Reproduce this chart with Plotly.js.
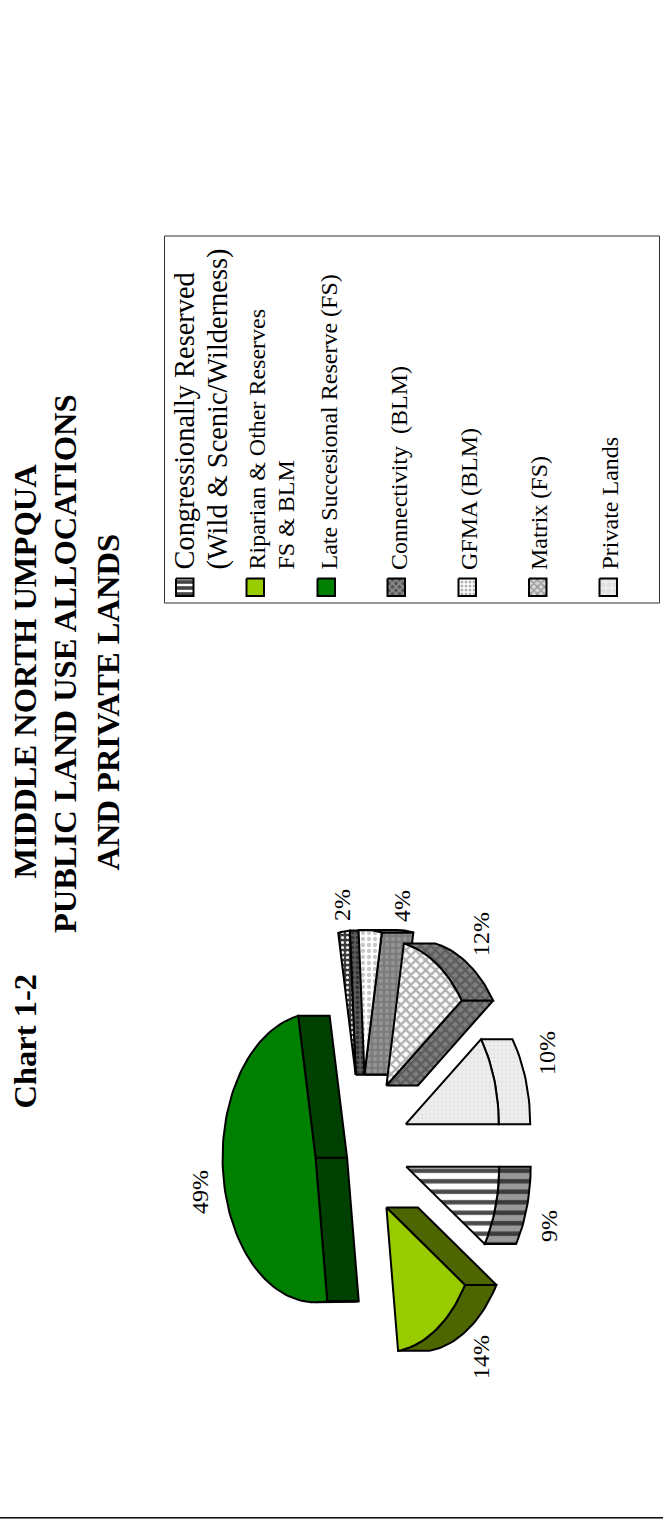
<!DOCTYPE html>
<html>
<head>
<meta charset="utf-8">
<script src="https://cdn.plot.ly/plotly-3.0.1.min.js"></script>
<style>html,body{margin:0;padding:0;background:#fff}</style>
</head>
<body>
<div id="chart" style="width:663px;height:1521px"></div>
<script>
// Land allocation shares, in percent, in pie order
const categories = ['Congressionally Reserved', 'Riparian & Other Reserves', 'Late Succesional Reserve (FS)',
  'Connectivity (BLM)', 'GFMA (BLM)', 'Matrix (FS)', 'Private Lands'];
const shares = [9, 14, 49, 2, 4, 12, 10];

const titleLines = ['MIDDLE NORTH UMPQUA', 'PUBLIC LAND USE ALLOCATIONS', 'AND PRIVATE LANDS'];
const chartNumber = 'Chart 1-2';
const legendLines = [
  ['Congressionally Reserved', '(Wild &amp; Scenic/Wilderness)'],
  ['Riparian &amp; Other Reserves', 'FS &amp; BLM'],
  ['Late Succesional Reserve (FS)'],
  ['Connectivity  (BLM)'],
  ['GFMA (BLM)'],
  ['Matrix (FS)'],
  ['Private Lands']
];

// Geometry of the tilted pie: the page is turned a quarter turn, so depth runs along +x
const center = {x: 361.5, y: 1146.5};
const radiusX = 93, radiusY = 144.5, depth = 31.5, explode = 0.5;

// Face and side fills per slice
const faceFills = [
  {bg: '#ffffff', fg: '#4a4a4a', shape: '-', size: 10.5, solidity: 0.42},
  {solid: '#99cc00'},
  {solid: '#008000'},
  {bg: '#3c3c3c', fg: '#f4f4f4', shape: '.', size: 5, solidity: 0.3},
  {bg: '#ffffff', fg: '#c8c8c8', shape: '.', size: 6, solidity: 0.4},
  {bg: '#ffffff', fg: '#b0b0b0', shape: 'x', size: 7, solidity: 0.55},
  {bg: '#efefef', fg: '#e4e4e4', shape: '.', size: 4, solidity: 0.4}
];
const sideFills = [
  {bg: '#999999', fg: '#3a3a3a', shape: '-', size: 10.5, solidity: 0.42},
  {solid: '#4d6600'},
  {solid: '#004000'},
  {bg: '#5a5a5a', fg: '#323232', shape: '.', size: 5, solidity: 0.4},
  {bg: '#7c7c7c', fg: '#949494', shape: '.', size: 6, solidity: 0.4},
  {bg: '#7e7e7e', fg: '#5c5c5c', shape: 'x', size: 7, solidity: 0.55},
  {bg: '#efefef', fg: '#e4e4e4', shape: '.', size: 4, solidity: 0.4}
];
const swatchFills = [
  {bg: '#444444', fg: '#ffffff', shape: '-', size: 6, solidity: 0.4},
  {solid: '#99cc00'},
  {solid: '#008000'},
  {bg: '#555555', fg: '#909090', shape: 'x', size: 5, solidity: 0.5},
  {bg: '#ffffff', fg: '#b4b4b4', shape: '.', size: 4, solidity: 0.45},
  {bg: '#d8d8d8', fg: '#8e8e8e', shape: 'x', size: 5, solidity: 0.45},
  {bg: '#ececec', fg: '#e0e0e0', shape: '.', size: 6, solidity: 0.5}
];

// Where each percentage sits
const valueLabelPos = [[549, 1226], [481, 1357], [200, 1192], [342, 905], [402, 906], [481, 934], [547, 1053]];

const rad = d => d * Math.PI / 180;
const edgePt = (o, t) => [o.x + radiusX * Math.cos(rad(t)), o.y + radiusY * Math.sin(rad(t))];

function fillProps(f) {
  if (f.solid) return {fillcolor: f.solid};
  return {fillcolor: f.bg, fillpattern: {shape: f.shape, fgcolor: f.fg, bgcolor: f.bg, size: f.size, solidity: f.solidity}};
}
function polygon(pts, fill, width) {
  const closed = pts.concat([pts[0]]);
  return Object.assign({
    type: 'scatter', mode: 'lines', fill: 'toself',
    x: closed.map(p => p[0]), y: closed.map(p => p[1]),
    line: {color: '#000000', width: width || 2}, hoverinfo: 'skip', showlegend: false
  }, fillProps(fill));
}
function arcPoints(o, from, to) {
  const pts = [], n = Math.max(2, Math.ceil((to - from) / 2));
  for (let i = 0; i <= n; i++) pts.push(edgePt(o, from + (to - from) * i / n));
  return pts;
}

// Turn the shares into slices laid out by cumulative angle
const total = shares.reduce((a, b) => a + b, 0);
let running = 0;
const slices = shares.map((v, i) => {
  const start = running / total * 360;
  running += v;
  const end = running / total * 360;
  const mid = rad((start + end) / 2);
  return {i, start, end, apex: {x: center.x + explode * radiusX * Math.cos(mid), y: center.y + explode * radiusY * Math.sin(mid)}};
});

const traces = [];
const shift = p => [p[0] + depth, p[1]];
const apexPt = o => [o.x, o.y];
function addSlice(s) {
  const side = sideFills[s.i];
  const a = apexPt(s.apex);
  // cut faces turned towards the viewer
  if (Math.sin(rad(s.start)) > 1e-6) {
    const e = edgePt(s.apex, s.start);
    traces.push(polygon([a, e, shift(e), shift(a)], side));
  }
  if (Math.sin(rad(s.end)) < -1e-6) {
    const e = edgePt(s.apex, s.end);
    traces.push(polygon([a, e, shift(e), shift(a)], side));
  }
  // rim: only where the outer edge faces the viewer
  [[s.start, Math.min(s.end, 90)], [Math.max(s.start, 270), s.end]].forEach(([from, to]) => {
    if (to - from > 1e-6) {
      const arc = arcPoints(s.apex, from, to);
      traces.push(polygon(arc.concat(arc.slice().reverse().map(shift)), side));
    }
  });
  // top face
  traces.push(polygon([a].concat(arcPoints(s.apex, s.start, s.end)), faceFills[s.i]));
}
[3, 4, 5, 6, 0, 1, 2].forEach(i => addSlice(slices[i]));

// Legend swatches
const swatchX = [176, 246.5, 317.5, 387.5, 458.5, 529, 599.5];
const swatchSize = 17.5, swatchY = 578.5;
swatchX.forEach((x, i) => {
  traces.push(Object.assign(polygon(
    [[x, swatchY], [x + swatchSize, swatchY], [x + swatchSize, swatchY + swatchSize], [x, swatchY + swatchSize]],
    swatchFills[i]), {name: categories[i]}));
});

const serif = 'Liberation Serif, Times New Roman, serif';
function vertical(text, x, y, size, bold, anchor) {
  return {
    text: bold ? '<b>' + text + '</b>' : text, x, y, xref: 'x', yref: 'y', showarrow: false,
    textangle: -90, xanchor: 'center', yanchor: anchor || 'bottom', borderpad: 0,
    font: {family: serif, size, color: '#000000'}
  };
}
const annotations = [];
[[24, 880], [65, 934], [107, 872]].forEach(([x, y], i) => annotations.push(vertical(titleLines[i], x, y, 32.5, true)));
annotations.push(vertical(chartNumber, 24, 1110, 32.5, true));
shares.forEach((v, i) => annotations.push(vertical(v + '%', valueLabelPos[i][0], valueLabelPos[i][1], 24, false, 'middle')));
const legendText = [[[184, 571, 28.4], [217, 571, 28.4]], [[256, 571, 24], [285, 571, 24]], [[328, 571, 24]],
  [[399, 571, 24]], [[469, 571, 24]], [[539, 571, 24]], [[609, 571, 24]]];
legendLines.forEach((lines, i) => lines.forEach((t, j) => {
  const [x, y, size] = legendText[i][j];
  annotations.push(vertical(t, x, y, size, false));
}));

const layout = {
  width: 663, height: 1521, autosize: false,
  margin: {l: 0, r: 0, t: 0, b: 0},
  paper_bgcolor: '#ffffff', plot_bgcolor: '#ffffff',
  xaxis: {range: [0, 663], visible: false, fixedrange: true},
  yaxis: {range: [1521, 0], visible: false, fixedrange: true},
  showlegend: false,
  annotations,
  shapes: [
    {type: 'rect', xref: 'x', yref: 'y', x0: 164.5, x1: 659.5, y0: 236, y1: 603, line: {color: '#333333', width: 1}, fillcolor: 'rgba(0,0,0,0)', layer: 'below'},
    {type: 'line', xref: 'x', yref: 'y', x0: 0, x1: 663, y0: 1517.5, y1: 1517.5, line: {color: '#111111', width: 1}},
    {type: 'line', xref: 'x', yref: 'y', x0: 0, x1: 663, y0: 1518.5, y1: 1518.5, line: {color: '#777777', width: 1}}
  ]
};
Plotly.newPlot('chart', traces, layout, {staticPlot: true, displayModeBar: false});
</script>
</body>
</html>
